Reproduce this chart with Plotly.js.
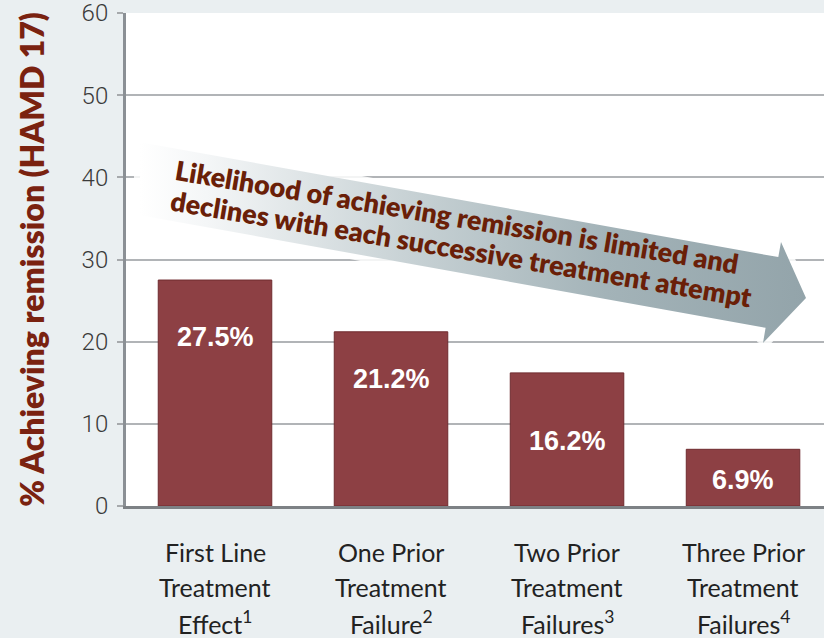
<!DOCTYPE html>
<html><head><meta charset="utf-8">
<script src="https://cdn.plot.ly/plotly-3.0.1.min.js"></script>
<style>html,body{margin:0;padding:0;background:#eaeff1}#chart{width:824px;height:638px}</style>
</head><body><div id="chart"></div>
<script>
// ---- data ----
const categories = ['First Line Treatment Effect', 'One Prior Treatment Failure', 'Two Prior Treatment Failures', 'Three Prior Treatment Failures'];
const labelLines = [
  ['First Line', 'Treatment', 'Effect<sup>1</sup>'],
  ['One Prior', 'Treatment', 'Failure<sup>2</sup>'],
  ['Two Prior', 'Treatment', 'Failures<sup>3</sup>'],
  ['Three Prior', 'Treatment', 'Failures<sup>4</sup>']
];
const remission = [27.5, 21.2, 16.2, 6.9];
const valueLabelHeights = [20.6, 15.5, 7.9, 3.2];
const yTickValues = [0, 10, 20, 30, 40, 50, 60];
const yTitle = '% Achieving remission (HAMD 17)';
const arrowLines = ['Likelihood of achieving remission is limited and', 'declines with each successive treatment attempt'];

// ---- decorative arrow (pixel space of plot area) ----
const arrowX = [140, 778.3, 781, 806, 763, 765.6, 140, 140];
const arrowY = [142.2, 257.1, 242, 298, 343, 327.8, 215.2, 142.2];
const arrowTextX = [457, 461];
const arrowTextY = [216, 248];

const bars = {
  type: 'bar', x: categories, y: remission,
  marker: { color: '#8d4044', line: { color: '#6f2b2f', width: 1 } },
  hoverinfo: 'x+y'
};
const glow = {
  type: 'scatter', mode: 'lines', x: arrowX, y: arrowY, xaxis: 'x2', yaxis: 'y2',
  fill: 'toself', fillcolor: 'rgba(255,255,255,0.9)',
  line: { color: 'rgba(255,255,255,0.85)', width: 12 }, hoverinfo: 'skip', showlegend: false
};
const arrow = {
  type: 'scatter', mode: 'lines', x: arrowX, y: arrowY, xaxis: 'x2', yaxis: 'y2',
  fill: 'toself', fillcolor: '#97a8ae',
  fillgradient: { type: 'horizontal', colorscale: [[0, '#ffffff'], [0.1, '#f4f6f7'], [0.4, '#c8d2d5'], [0.7, '#a3b3b8'], [1, '#93a4aa']] },
  line: { width: 0, color: 'rgba(0,0,0,0)' }, hoverinfo: 'skip', showlegend: false
};

const annotations = [];
remission.forEach((v, i) => {
  annotations.push({
    x: categories[i], y: valueLabelHeights[i], xref: 'x', yref: 'y',
    text: v.toFixed(1) + '%', showarrow: false,
    font: { family: 'Liberation Sans, Arial', size: 27, color: '#ffffff', weight: 700 }
  });
});
labelLines.forEach((lines, i) => {
  lines.forEach((t, j) => {
    annotations.push({
      x: categories[i], y: 0, xref: 'x', yref: 'paper', yanchor: 'middle',
      yshift: -(46 + 35 * j), text: t, showarrow: false,
      font: { family: 'Lato, Open Sans, sans-serif', size: 25, color: '#222222' }
    });
  });
});
arrowLines.forEach((t, k) => {
  annotations.push({
    x: arrowTextX[k], y: arrowTextY[k], xref: 'x2', yref: 'y2', text: t, showarrow: false,
    textangle: 9.5,
    font: { family: 'Lato, Open Sans, sans-serif', size: 27, color: '#6a1f08', weight: 800 }
  });
});

const layout = {
  width: 824, height: 638,
  margin: { l: 126, r: 0, t: 13, b: 132 },
  paper_bgcolor: '#eaeff1', plot_bgcolor: '#ffffff',
  showlegend: false, bargap: 0.355,
  xaxis: {
    type: 'category', range: [-0.5057, 3.46], showticklabels: false, ticks: '',
    showline: true, linecolor: '#7d8185', linewidth: 3, showgrid: false, zeroline: false, fixedrange: true
  },
  yaxis: {
    range: [0, 60], tickvals: yTickValues, ticks: 'outside', ticklen: 6, tickwidth: 2, tickcolor: '#a6a9ac',
    showline: true, linecolor: '#8b9095', linewidth: 3, showgrid: true, gridcolor: '#b1b4b7', gridwidth: 2,
    zeroline: false, ticklabelstandoff: 4, ticklabeloverflow: 'allow',
    tickfont: { family: 'Roboto, Liberation Sans, Arial', size: 24, color: '#3a3a3a', weight: 300 },
    title: { text: yTitle, standoff: 28, font: { family: 'Lato, Open Sans, sans-serif', size: 32, color: '#7a2210', weight: 800 } },
    fixedrange: true
  },
  xaxis2: { overlaying: 'x', range: [126, 824], visible: false, fixedrange: true },
  yaxis2: { overlaying: 'y', range: [506, 13], visible: false, fixedrange: true },
  annotations: annotations
};

Plotly.newPlot('chart', [bars, glow, arrow], layout, { displayModeBar: false, staticPlot: true });
</script>
</body></html>
